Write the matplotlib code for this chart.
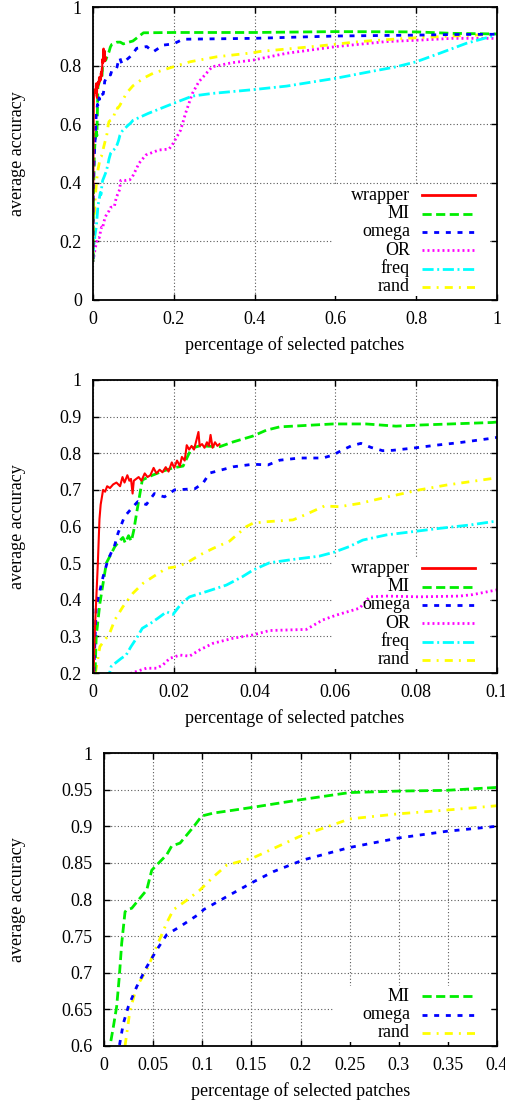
import numpy as np
import matplotlib
matplotlib.use("Agg")
import matplotlib.pyplot as plt
from matplotlib.ticker import FuncFormatter, MultipleLocator
from matplotlib.patches import Rectangle

plt.rcParams['font.family'] = ['Liberation Serif', 'DejaVu Serif']
plt.rcParams['font.size'] = 13

# ---------------- data: experiment shown in panels 1 and 2 ----------------
wrapper_x = [0, 0.0004, 0.0012, 0.0016, 0.0019, 0.0025, 0.003, 0.0035, 0.0042, 0.005,
             0.0058, 0.0067, 0.0073, 0.0078, 0.0085, 0.009, 0.0094, 0.0098, 0.0101, 0.0107,
             0.0113, 0.012, 0.0128, 0.0135, 0.0142, 0.015, 0.0157, 0.0165, 0.0172, 0.018,
             0.0187, 0.0195, 0.0201, 0.0208, 0.0215, 0.022, 0.0227, 0.0232, 0.0238, 0.0244,
             0.025, 0.0257, 0.0261, 0.0264, 0.027, 0.0276, 0.0282, 0.0287, 0.0291, 0.0296,
             0.0302, 0.0308, 0.0313]
wrapper_y = [0.14, 0.3, 0.5, 0.62, 0.66, 0.70, 0.695, 0.71, 0.705, 0.715,
             0.72, 0.71, 0.735, 0.72, 0.74, 0.725, 0.73, 0.69, 0.725, 0.73,
             0.735, 0.725, 0.745, 0.735, 0.74, 0.76, 0.745, 0.755, 0.748, 0.762,
             0.75, 0.775, 0.76, 0.78, 0.765, 0.79, 0.78, 0.822, 0.81, 0.82,
             0.81, 0.84, 0.858, 0.82, 0.825, 0.815, 0.83, 0.82, 0.85, 0.815,
             0.83, 0.82, 0.825]

mi_x = [0, 0.0005, 0.0008, 0.0017, 0.0033, 0.0054, 0.0065, 0.0074, 0.008, 0.0088,
        0.0095, 0.0101, 0.0108, 0.0122, 0.0147, 0.017, 0.0198, 0.0223, 0.0244, 0.0264,
        0.0314, 0.0347, 0.0396, 0.0429, 0.0462, 0.0594, 0.0676, 0.075, 0.0808, 0.0988,
        0.125, 0.2, 0.4, 0.6, 0.8, 0.89, 1.0]
mi_y = [0.13, 0.2, 0.3, 0.39, 0.50, 0.545, 0.56, 0.57, 0.555, 0.575,
        0.56, 0.59, 0.637, 0.727, 0.74, 0.75, 0.76, 0.765, 0.814, 0.82,
        0.818, 0.831, 0.847, 0.863, 0.872, 0.88, 0.88, 0.874, 0.877, 0.884,
        0.912, 0.913, 0.913, 0.916, 0.915, 0.91, 0.908]

omega_x = [0, 0.0008, 0.0025, 0.0037, 0.0054, 0.0062, 0.0078, 0.0099, 0.0111, 0.0132,
           0.0152, 0.016, 0.0177, 0.0202, 0.0252, 0.0272, 0.0289, 0.0347, 0.0396, 0.0433,
           0.0462, 0.0511, 0.0569, 0.0594, 0.0614, 0.0639, 0.0663, 0.0688, 0.0717, 0.0742,
           0.0792, 0.0849, 0.0907, 0.0988, 0.108, 0.133, 0.149, 0.174, 0.199, 0.223,
           0.397, 0.602, 0.8, 0.889, 1.0]
omega_y = [0.14, 0.381, 0.463, 0.509, 0.55, 0.582, 0.627, 0.654, 0.668, 0.66,
           0.69, 0.686, 0.681, 0.70, 0.703, 0.718, 0.746, 0.763, 0.770, 0.768,
           0.781, 0.787, 0.787, 0.795, 0.807, 0.82, 0.827, 0.816, 0.807, 0.808,
           0.814, 0.822, 0.829, 0.841, 0.859, 0.865, 0.847, 0.870, 0.874, 0.89,
           0.893, 0.901, 0.904, 0.906, 0.907]

or_x = [0, 0.006, 0.0096, 0.0132, 0.0157, 0.0173, 0.019, 0.0215, 0.0239, 0.0264,
        0.0297, 0.0347, 0.0396, 0.0437, 0.0528, 0.0569, 0.0602, 0.066, 0.0685, 0.0726,
        0.0808, 0.0907, 0.094, 0.1, 0.114, 0.131, 0.163, 0.188, 0.196, 0.217,
        0.229, 0.246, 0.262, 0.295, 0.345, 0.397, 0.479, 0.602, 0.726, 0.808,
        0.889, 1.0]
or_y = [0.13, 0.18, 0.2, 0.213, 0.213, 0.222, 0.24, 0.249, 0.246, 0.263,
        0.281, 0.295, 0.304, 0.316, 0.319, 0.345, 0.358, 0.377, 0.408, 0.41,
        0.408, 0.41, 0.414, 0.427, 0.467, 0.495, 0.512, 0.515, 0.529, 0.58,
        0.637, 0.705, 0.745, 0.796, 0.81, 0.819, 0.842, 0.865, 0.882, 0.887,
        0.893, 0.893]

freq_x = [0, 0.002, 0.0041, 0.0045, 0.0054, 0.007, 0.0082, 0.0094, 0.011, 0.0122,
          0.0143, 0.016, 0.0182, 0.0198, 0.0219, 0.0239, 0.028, 0.033, 0.037, 0.0396,
          0.0437, 0.0495, 0.056, 0.0597, 0.0634, 0.0668, 0.0726, 0.0792, 0.0858, 0.0932,
          0.0988, 0.137, 0.199, 0.246, 0.295, 0.397, 0.479, 0.602, 0.685, 0.751,
          0.8, 0.858, 0.924, 1.0]
freq_y = [0.14, 0.19, 0.2, 0.218, 0.226, 0.24, 0.249, 0.272, 0.299, 0.322,
          0.336, 0.349, 0.367, 0.36, 0.39, 0.408, 0.422, 0.44, 0.463, 0.481,
          0.501, 0.51, 0.519, 0.53, 0.545, 0.563, 0.577, 0.586, 0.595, 0.604,
          0.613, 0.637, 0.671, 0.696, 0.705, 0.718, 0.73, 0.757, 0.779, 0.796,
          0.813, 0.842, 0.876, 0.905]

rand_x = [0, 0.0006, 0.0017, 0.0041, 0.0054, 0.0074, 0.0099, 0.0124, 0.0149, 0.0182,
          0.0206, 0.0231, 0.0264, 0.0297, 0.0338, 0.038, 0.0396, 0.0429, 0.0495, 0.0523,
          0.0573, 0.061, 0.066, 0.0726, 0.0808, 0.0874, 0.0988, 0.125, 0.149, 0.199,
          0.24, 0.306, 0.397, 0.412, 0.56, 0.66, 0.773, 0.889, 1.0]
rand_y = [0.14, 0.2, 0.272, 0.308, 0.345, 0.381, 0.418, 0.445, 0.463, 0.486,
          0.49, 0.5, 0.522, 0.54, 0.56, 0.60, 0.609, 0.613, 0.618, 0.631,
          0.656, 0.654, 0.663, 0.68, 0.70, 0.713, 0.731, 0.757, 0.774, 0.796,
          0.813, 0.83, 0.844, 0.848, 0.867, 0.882, 0.893, 0.901, 0.907]

# ---------------- data: experiment shown in panel 3 ----------------
mi3_x = [0.003, 0.0061, 0.0095, 0.0129, 0.0156, 0.018, 0.0214, 0.0231, 0.0282, 0.0367,
         0.0435, 0.0486, 0.0536, 0.0638, 0.0689, 0.0774, 0.091, 0.0995, 0.1114, 0.132,
         0.152, 0.199, 0.25, 0.3, 0.348, 0.4]
mi3_y = [0.57, 0.6, 0.626, 0.654, 0.695, 0.74, 0.783, 0.786, 0.788, 0.802,
         0.813, 0.84, 0.847, 0.861, 0.873, 0.877, 0.899, 0.914, 0.918, 0.922,
         0.926, 0.936, 0.946, 0.948, 0.949, 0.953]
omega3_x = [0.012, 0.0156, 0.0197, 0.0248, 0.0333, 0.0435, 0.0536, 0.0638, 0.0774, 0.0977,
            0.1012, 0.125, 0.152, 0.1723, 0.2028, 0.25, 0.3, 0.348, 0.4]
omega3_y = [0.57, 0.6, 0.631, 0.654, 0.681, 0.708, 0.731, 0.752, 0.763, 0.781,
            0.786, 0.804, 0.824, 0.838, 0.854, 0.871, 0.884, 0.893, 0.90]
rand3_x = [0.018, 0.0214, 0.0265, 0.0333, 0.0435, 0.0536, 0.0638, 0.0706, 0.0842, 0.0977,
           0.1114, 0.125, 0.152, 0.199, 0.25, 0.3, 0.348, 0.4]
rand3_y = [0.57, 0.6, 0.649, 0.681, 0.704, 0.736, 0.768, 0.786, 0.799, 0.813,
           0.831, 0.847, 0.857, 0.886, 0.91, 0.917, 0.922, 0.928]

labels = ['wrapper', 'MI', 'omega', 'OR', 'freq', 'rand']
xlabel = 'percentage of selected patches'
ylabel = 'average accuracy'

# ---------------- styles ----------------
STYLE = {
    'wrapper': dict(color='#ff0000', lw=1.5, ls='-', zorder=5),
    'MI': dict(color='#00ee00', lw=2.0, ls=(0, (3.3, 1.6)), zorder=4),
    'omega': dict(color='#0000ff', lw=2.0, ls=(0, (1.8, 2.4)), zorder=4),
    'OR': dict(color='#ff00ff', lw=2.0, ls=(0, (0.7, 1.1)), zorder=3),
    'freq': dict(color='#00ffff', lw=2.0, ls=(0, (4, 1.3, 0.7, 1.3)), zorder=3),
    'rand': dict(color='#ffff00', lw=2.0, ls=(0, (2.9, 2.2, 0.7, 2.2)), zorder=3),
}

W, H = 506, 1103
fig = plt.figure(figsize=(W / 100, H / 100), dpi=100)

def make_axes(left, top, right, bottom):
    return fig.add_axes([left / W, (H - bottom) / H, (right - left) / W, (bottom - top) / H])

fmt = FuncFormatter(lambda v, p: '%g' % round(v, 6))

def style_axes(ax, xlim, ylim, xstep, ystep, left_px, width_px):
    ax.set_xlim(*xlim)
    ax.set_ylim(*ylim)
    ax.xaxis.set_major_locator(MultipleLocator(xstep))
    ax.yaxis.set_major_locator(MultipleLocator(ystep))
    ax.xaxis.set_major_formatter(fmt)
    ax.yaxis.set_major_formatter(fmt)
    ax.tick_params(direction='in', length=4.3, width=1, top=True, right=True,
                   labelsize=13, pad=8)
    ax.grid(True, color='0.35', ls=(0, (1, 2)), lw=0.8, zorder=0.5)
    ax.set_axisbelow(True)
    for s in ax.spines.values():
        s.set_linewidth(1.3)
        s.set_zorder(6)
    ax.set_xlabel(xlabel, fontsize=13)
    ax.xaxis.set_label_coords(0.5, -45 / 293)
    ax.xaxis.label.set_va('center')
    ax.set_ylabel(ylabel, fontsize=13)
    ax.yaxis.set_label_coords((18 - left_px) / width_px, 0.5)
    ax.yaxis.label.set_va('center')

def draw_key(ax, names, width_px):
    n = len(names)
    ys = [0.045 + 0.0625 * (n - 1 - k) for k in range(n)]
    box = Rectangle((1 - 164 / width_px, 0.014), 157 / width_px, ys[0] + 0.036 - 0.014,
                    transform=ax.transAxes, facecolor='white', edgecolor='none', zorder=1)
    ax.add_patch(box)
    for name, y in zip(names, ys):
        ax.text(1 - 87 / width_px, y, name, transform=ax.transAxes, ha='right',
                va='center', fontsize=13, zorder=7)
        st = STYLE[name]
        ax.plot([1 - 75 / width_px, 1 - 22 / width_px], [y, y], transform=ax.transAxes,
                color=st['color'], lw=st['lw'] + (0.5 if name == 'wrapper' else 0),
                ls=st['ls'], zorder=7, clip_on=False)

series12 = {
    'wrapper': (wrapper_x, wrapper_y),
    'MI': (mi_x, mi_y),
    'omega': (omega_x, omega_y),
    'OR': (or_x, or_y),
    'freq': (freq_x, freq_y),
    'rand': (rand_x, rand_y),
}

# Panel 1
ax1 = make_axes(93, 7, 497, 300)
for name in labels:
    x, y = series12[name]
    ax1.plot(x, y, **STYLE[name])
style_axes(ax1, (0, 1), (0, 1), 0.2, 0.2, 93, 404)
draw_key(ax1, labels, 404)

# Panel 2
ax2 = make_axes(93, 380, 497, 673)
for name in labels:
    x, y = series12[name]
    ax2.plot(x, y, **STYLE[name])
style_axes(ax2, (0, 0.1), (0.2, 1), 0.02, 0.1, 93, 404)
draw_key(ax2, labels, 404)

# Panel 3
ax3 = make_axes(104, 753, 497, 1046)
series3 = {'MI': (mi3_x, mi3_y), 'omega': (omega3_x, omega3_y), 'rand': (rand3_x, rand3_y)}
for name in ['MI', 'omega', 'rand']:
    x, y = series3[name]
    ax3.plot(x, y, **STYLE[name])
style_axes(ax3, (0, 0.4), (0.6, 1), 0.05, 0.05, 104, 393)
draw_key(ax3, ['MI', 'omega', 'rand'], 393)

fig.savefig('out.png', dpi=100)
